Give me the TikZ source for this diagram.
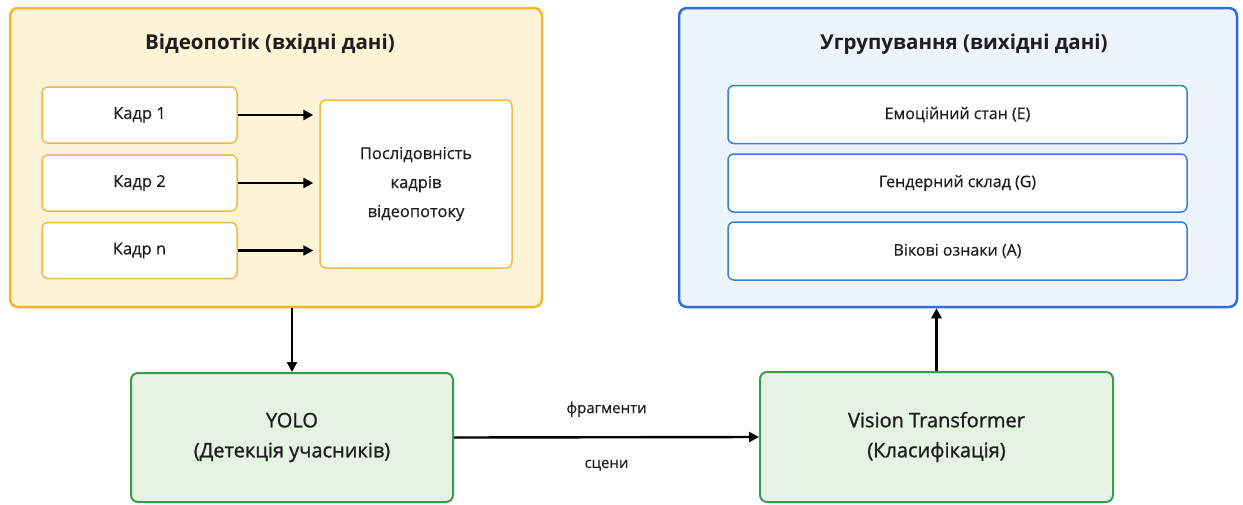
\documentclass[tikz,border=0pt]{standalone}
\usepackage{fontspec}
\setmainfont{Open Sans}
\newfontfamily\medfont[FakeBold=0.5]{Open Sans}
\newfontfamily\semifont[FakeBold=1.2]{Open Sans}
\usetikzlibrary{arrows.meta}
\definecolor{ylfill}{HTML}{FDF3D7}
\definecolor{ylline}{HTML}{F4B52F}
\definecolor{ylinner}{HTML}{F3B848}
\definecolor{blfill}{HTML}{EDF4FD}
\definecolor{blline}{HTML}{2C6FD6}
\definecolor{blinner}{HTML}{3B7DDB}
\definecolor{grfill}{HTML}{E6F2E4}
\definecolor{grline}{HTML}{3E9A4B}
\definecolor{txt}{HTML}{1E1E1E}
\tikzset{
  panel/.style={draw, line width=2.5pt, rounded corners=8pt, inner sep=0pt},
  ypanel/.style={panel, draw=ylline, fill=ylfill},
  bpanel/.style={panel, draw=blline, fill=blfill},
  ybox/.style={draw=ylinner, fill=white, line width=1.5pt, rounded corners=6pt,
    inner sep=0pt, text=txt, font=\medfont\fontsize{16.5}{29}\selectfont, align=center},
  bbox/.style={draw=blinner, fill=white, line width=1.5pt, rounded corners=6pt,
    inner sep=0pt, text=txt, font=\medfont\fontsize{16}{29}\selectfont, align=center},
  gbox/.style={draw=grline, fill=grfill, line width=2pt, rounded corners=7pt,
    inner sep=0pt, text=txt, font=\semifont\fontsize{20}{30}\selectfont, align=center},
  ptitle/.style={text=txt, font=\fontsize{20.5}{24}\selectfont\bfseries},
  elabel/.style={text=txt, font=\medfont\fontsize{15}{16}\selectfont},
  arr/.style={draw=black, line width=2.4pt,
    -{Triangle[length=10pt, width=10pt]}}
}
\begin{document}
\begin{tikzpicture}[x=1pt, y=-1pt]
\useasboundingbox (0,0) rectangle (1243,504);

% input panel
\node[ypanel, minimum width=532pt, minimum height=299pt] (inpanel) at (276,157.5) {};
\node[ptitle] (intitle) at (270,44) {Відеопотік (вхідні дані)};
\node[ybox, minimum width=195pt, minimum height=56pt] (k1) at (139.5,115) {Кадр 1};
\node[ybox, minimum width=195pt, minimum height=56pt] (k2) at (139.5,183) {Кадр 2};
\node[ybox, minimum width=195pt, minimum height=56pt] (kn) at (139.5,250.5) {Кадр n};
\node[ybox, minimum width=192pt, minimum height=168pt] (seq) at (416,184)
  {Послідовність\\кадрів\\відеопотоку};

\draw[arr, shorten >=6pt] (k1.east) -- (k1.east -| seq.west);
\draw[arr, shorten >=6pt] (k2.east) -- (k2.east -| seq.west);
\draw[arr, shorten >=6pt] (kn.east) -- (kn.east -| seq.west);

% output panel
\node[bpanel, minimum width=558pt, minimum height=299pt] (outpanel) at (958,157.5) {};
\node[ptitle] (outtitle) at (964,44) {Угрупування (вихідні дані)};
\node[bbox, minimum width=459pt, minimum height=58pt] (emo) at (957.5,114.5) {Емоційний стан (E)};
\node[bbox, minimum width=459pt, minimum height=58pt] (gen) at (957.5,183) {Гендерний склад (G)};
\node[bbox, minimum width=459pt, minimum height=58pt] (age) at (957.5,251) {Вікові ознаки (A)};

% processing stages
\node[gbox, minimum width=322pt, minimum height=129pt] (yolo) at (292,437.5)
  {YOLO\\(Детекція учасників)};
\node[gbox, minimum width=353pt, minimum height=130pt] (vit) at (936.5,437)
  {Vision Transformer\\(Класифікація)};

\coordinate (inbottom) at (inpanel.south -| yolo.north);
\coordinate (outbottom) at (outpanel.south -| vit.north);
\draw[arr] (inbottom) -- (yolo.north);
\draw[arr] (vit.north) -- (outbottom);
\draw[arr] (yolo.east) -- node[elabel, pos=0.5, yshift=28pt] (lblup) {фрагменти}
  node[elabel, pos=0.5, yshift=-28pt] (lbldown) {сцени} (vit.west);
\end{tikzpicture}
\end{document}
